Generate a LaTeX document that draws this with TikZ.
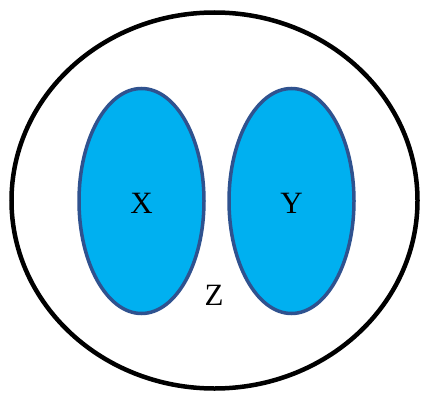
\documentclass[tikz,border=0pt]{standalone}
\usepackage{fontspec}
\setmainfont{Liberation Serif}
\definecolor{setfill}{HTML}{00B0F0}
\definecolor{setline}{HTML}{2F528F}

\begin{document}
\begin{tikzpicture}[x=1pt,y=-1pt]
            \useasboundingbox (0,0) rectangle (422,393);
            \draw[line width=4.5pt] (214.5,200.5) ellipse [x radius=203, y radius=188];
            \filldraw[fill=setfill, draw=setline, line width=3.5pt] (141.5,201) ellipse [x radius=62.5, y radius=112.5];
            \filldraw[fill=setfill, draw=setline, line width=3.5pt] (291.5,201) ellipse [x radius=62.5, y radius=112.5];
            \node (x) at (141.5,203) {\fontsize{31}{37}\selectfont X};
            \node (y) at (291.5,203) {\fontsize{31}{37}\selectfont Y};
            \node (z) at (214,295) {\fontsize{31}{37}\selectfont Z};
        \end{tikzpicture}
\end{document}
